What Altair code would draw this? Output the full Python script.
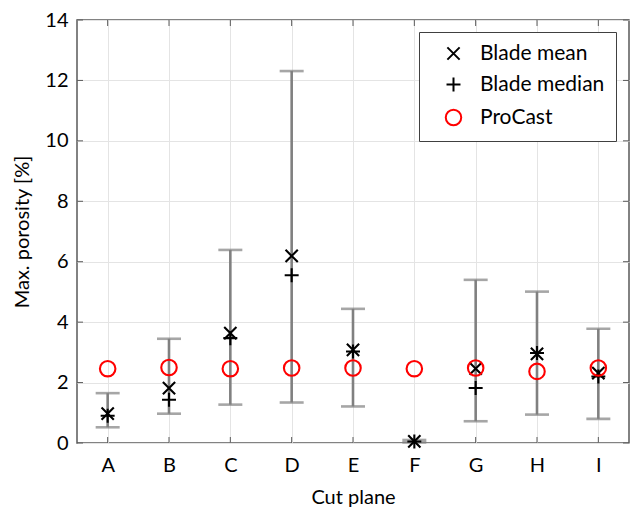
import altair as alt
import pandas as pd

cuts = ["A", "B", "C", "D", "E", "F", "G", "H", "I"]
blade_mean = [0.97, 1.82, 3.64, 6.19, 3.08, 0.05, 2.46, 2.95, 2.31]
blade_median = [0.90, 1.43, 3.47, 5.55, 3.03, 0.05, 1.82, 2.98, 2.20]
procast = [2.46, 2.50, 2.46, 2.48, 2.48, 2.46, 2.48, 2.37, 2.48]
err_low = [0.52, 0.97, 1.27, 1.34, 1.21, 0.02, 0.72, 0.94, 0.80]
err_high = [1.65, 3.45, 6.39, 12.31, 4.44, 0.10, 5.40, 5.01, 3.78]
y_ticks = [0, 2, 4, 6, 8, 10, 12, 14]
series_names = ["Blade mean", "Blade median", "ProCast"]

W, H = 552, 423
FONT = "Lato"
GRAY = "#808080"
FRAME = "#5a5a5a"

pts = pd.DataFrame({
    "cut": cuts * 3,
    "series": [series_names[0]] * 9 + [series_names[1]] * 9 + [series_names[2]] * 9,
    "value": blade_mean + blade_median + procast,
})
err = pd.DataFrame({"cut": cuts, "lo": err_low, "hi": err_high})
yt = pd.DataFrame({"v": y_ticks})
xt = pd.DataFrame({"cut": cuts})

xscale = alt.Scale(domain=cuts, type="point", padding=0.5)
yscale = alt.Scale(domain=[0, 14], nice=False)

xaxis = alt.Axis(title="Cut plane", labelAngle=0, grid=True, ticks=False, domain=False,
                 labelPadding=12, titlePadding=12)
yaxis = alt.Axis(title="Max. porosity [%]", values=y_ticks, grid=True, ticks=False,
                 domain=False, labelPadding=9, titlePadding=12)

grid = alt.Chart(xt).mark_point(opacity=0).encode(
    x=alt.X("cut:N", scale=xscale, axis=xaxis),
    y=alt.Y("v:Q", scale=yscale, axis=yaxis),
).transform_calculate(v="0")

rules = alt.Chart(err).mark_rule(color=GRAY, strokeWidth=2.6).encode(
    x=alt.X("cut:N", scale=xscale), y=alt.Y("lo:Q", scale=yscale), y2="hi:Q"
)
cap_lo = alt.Chart(err).mark_tick(color=GRAY, thickness=2.6, size=24).encode(
    x=alt.X("cut:N", scale=xscale), y=alt.Y("lo:Q", scale=yscale)
)
cap_hi = alt.Chart(err).mark_tick(color=GRAY, thickness=2.6, size=24).encode(
    x=alt.X("cut:N", scale=xscale), y=alt.Y("hi:Q", scale=yscale)
)

x_path = "M-1,-1L1,1M-1,1L1,-1"
plus_path = "M-1,0L1,0M0,-1L0,1"

legend = alt.Legend(
    title=None, orient="none", legendX=342, legendY=12,
    strokeColor="#404040", fillColor="white", padding=11,
    labelFont=FONT, labelFontSize=21, labelColor="black",
    symbolStrokeWidth=2, rowPadding=9, symbolOffset=13, labelOffset=16,
    cornerRadius=0,
)

markers = alt.Chart(pts).mark_point(filled=False, strokeWidth=2.1, opacity=1).encode(
    x=alt.X("cut:N", scale=xscale),
    y=alt.Y("value:Q", scale=yscale),
    shape=alt.Shape("series:N", scale=alt.Scale(domain=series_names, range=[x_path, plus_path, "circle"]), legend=legend),
    color=alt.Color("series:N", scale=alt.Scale(domain=series_names, range=["black", "black", "#ff0000"]), legend=legend),
    size=alt.Size("series:N", scale=alt.Scale(domain=series_names, range=[150, 240, 215]), legend=legend),
)

tick_style = dict(color=FRAME, strokeWidth=1)
yl = alt.Chart(yt).mark_rule(**tick_style).encode(
    y=alt.Y("v:Q", scale=yscale), x=alt.value(0), x2=alt.value(6))
yr = alt.Chart(yt).mark_rule(**tick_style).encode(
    y=alt.Y("v:Q", scale=yscale), x=alt.value(W - 6), x2=alt.value(W))
xb = alt.Chart(xt).mark_rule(**tick_style).encode(
    x=alt.X("cut:N", scale=xscale), y=alt.value(H), y2=alt.value(H - 6))
xtop = alt.Chart(xt).mark_rule(**tick_style).encode(
    x=alt.X("cut:N", scale=xscale), y=alt.value(0), y2=alt.value(6))

chart = alt.layer(grid, yl, yr, xb, xtop, rules, cap_lo, cap_hi, markers).properties(
    width=W, height=H,
    background="white",
    autosize=alt.AutoSizeParams(type="none"),
    padding={"left": 77, "top": 20, "right": 4, "bottom": 67},
).configure_view(
    stroke=FRAME, strokeWidth=1.5
).configure_axis(
    labelFont=FONT, titleFont=FONT, labelFontSize=20, titleFontSize=20,
    labelColor="black", titleColor="black", titleFontWeight="normal",
    gridColor="#e4e4e4", gridWidth=1,
)

chart.save("out.html", embed_options={"renderer": "svg", "actions": False})
